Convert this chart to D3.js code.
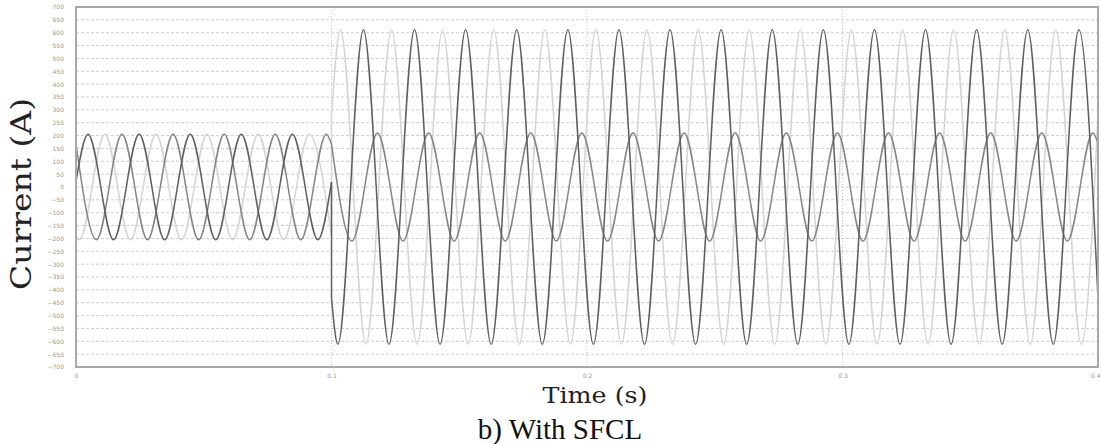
<!DOCTYPE html>
<html lang="en">
<head>
    <meta charset="UTF-8">
    <title>Current - With SFCL</title>
    <script src="https://d3js.org/d3.v7.min.js"></script>
    <style>
        body { margin: 0; background: #fff; }
        svg { display: block; }
    </style>
</head>
<body>
    <script>
        // Ticks
        const yTicks = [700, 650, 600, 550, 500, 450, 400, 350, 300, 250, 200, 150, 100, 50, 0,
                        -50, -100, -150, -200, -250, -300, -350, -400, -450, -500, -550, -600, -650, -700];
        const xTicks = [0, 0.1, 0.2, 0.3, 0.4];
        const faultTime = 0.1;

        // Phase currents: start, peaks/troughs, end (time in s, current in A)
        // Ia (medium grey) - healthy phase
        const iaPreT = [0, 0.008, 0.018, 0.028, 0.038, 0.048, 0.058, 0.068, 0.078, 0.088, 0.098, 0.1];
        const iaPreV = [166, -205, 205, -205, 205, -205, 205, -205, 205, -205, 205, 166];
        const iaPostT = [0.1, 0.108, 0.118, 0.128, 0.138, 0.148, 0.158, 0.168, 0.178, 0.188, 0.198,
                         0.208, 0.218, 0.228, 0.238, 0.248, 0.258, 0.268, 0.278, 0.288, 0.298,
                         0.308, 0.318, 0.328, 0.338, 0.348, 0.358, 0.368, 0.378, 0.388, 0.398, 0.4];
        const iaPostV = [166, -210, 210, -210, 210, -210, 210, -210, 210, -210, 210,
                         -210, 210, -210, 210, -210, 210, -210, 210, -210, 210,
                         -210, 210, -210, 210, -210, 210, -210, 210, -210, 210, 170];
        // Ib (light grey) - faulted phase
        const ibPreT = [0, 0.0013, 0.0113, 0.0213, 0.0313, 0.0413, 0.0513, 0.0613, 0.0713, 0.0813, 0.0913, 0.1];
        const ibPreV = [-192, -205, 205, -205, 205, -205, 205, -205, 205, -205, 205, -188];
        const ibPostT = [0.1, 0.1035, 0.1135, 0.1235, 0.1335, 0.1435, 0.1535, 0.1635, 0.1735, 0.1835, 0.1935,
                         0.2035, 0.2135, 0.2235, 0.2335, 0.2435, 0.2535, 0.2635, 0.2735, 0.2835, 0.2935,
                         0.3035, 0.3135, 0.3235, 0.3335, 0.3435, 0.3535, 0.3635, 0.3735, 0.3835, 0.3935, 0.4];
        const ibPostV = [278, 612, -612, 612, -612, 612, -612, 612, -612, 612, -612,
                         612, -612, 612, -612, 612, -612, 612, -612, 612, -612,
                         612, -612, 612, -612, 612, -612, 612, -612, 612, -612, 278];
        // Ic (dark grey) - faulted phase
        const icPreT = [0, 0.0047, 0.0147, 0.0247, 0.0347, 0.0447, 0.0547, 0.0647, 0.0747, 0.0847, 0.0947, 0.1];
        const icPreV = [22, 205, -205, 205, -205, 205, -205, 205, -205, 205, -205, 19];
        const icPostT = [0.1, 0.1025, 0.1125, 0.1225, 0.1325, 0.1425, 0.1525, 0.1625, 0.1725, 0.1825, 0.1925,
                         0.2025, 0.2125, 0.2225, 0.2325, 0.2425, 0.2525, 0.2625, 0.2725, 0.2825, 0.2925,
                         0.3025, 0.3125, 0.3225, 0.3325, 0.3425, 0.3525, 0.3625, 0.3725, 0.3825, 0.3925, 0.4];
        const icPostV = [-433, -612, 612, -612, 612, -612, 612, -612, 612, -612, 612,
                         -612, 612, -612, 612, -612, 612, -612, 612, -612, 612,
                         -612, 612, -612, 612, -612, 612, -612, 612, -612, 612, -433];

        const w = 1101, h = 444;
        const padLeft = 76, padRight = 1098, padTop = 7, padBottom = 367;

        const svg = d3.select("body").append("svg")
            .attr("width", w)
            .attr("height", h);

        svg.append("rect").attr("width", w).attr("height", h).attr("fill", "#fff");

        const x = d3.scaleLinear().domain([0, 0.4]).range([padLeft, padRight]);
        const y = d3.scaleLinear().domain([-700, 700]).range([padBottom, padTop]);

        // grid lines
        svg.append("g")
            .selectAll("line")
            .data(yTicks.filter(d => Math.abs(d) < 700))
            .join("line")
            .attr("x1", padLeft).attr("x2", padRight)
            .attr("y1", d => y(d)).attr("y2", d => y(d))
            .attr("stroke", "#cdcdcd")
            .attr("stroke-width", 1)
            .attr("stroke-dasharray", "3,2");
        svg.append("g")
            .selectAll("line")
            .data(xTicks.filter(d => d > 0 && d < 0.4))
            .join("line")
            .attr("x1", d => x(d)).attr("x2", d => x(d))
            .attr("y1", padTop).attr("y2", padBottom)
            .attr("stroke", "#c8c8c8")
            .attr("stroke-width", 1)
            .attr("stroke-dasharray", "1,2");

        // axes (labels only, the frame is drawn below)
        const yAxis = d3.axisLeft(y).tickValues(yTicks).tickSize(0).tickPadding(12);
        const xAxis = d3.axisBottom(x).tickValues(xTicks).tickSize(0).tickPadding(7)
            .tickFormat(d => d === 0 ? "0" : d3.format(".1f")(d));

        const gy = svg.append("g").attr("transform", `translate(${padLeft},0)`).call(yAxis);
        const gx = svg.append("g").attr("transform", `translate(0,${padBottom})`).call(xAxis);
        [gx, gy].forEach(g => {
            g.select(".domain").remove();
            g.selectAll("text")
                .attr("fill", "#999")
                .style("font-family", "DejaVu Sans, sans-serif")
                .style("font-size", "6px");
        });
        // last time label sits at the right edge: keep it inside the picture
        gx.selectAll(".tick text").filter(d => d === 0.4)
            .attr("text-anchor", "end")
            .attr("dx", 2);

        // waveforms
        svg.append("clipPath").attr("id", "plot")
            .append("rect")
            .attr("x", padLeft).attr("y", padTop)
            .attr("width", padRight - padLeft).attr("height", padBottom - padTop);

        const line = d3.line()
            .x(d => x(d[0]))
            .y(d => y(d[1]))
            .curve(d3.curveMonotoneX);
        const step = d3.line().x(d => x(d[0])).y(d => y(d[1]));

        const phases = [
            { name: "Ib", color: "#d4d4d4", preT: ibPreT, preV: ibPreV, postT: ibPostT, postV: ibPostV },
            { name: "Ia", color: "#858585", preT: iaPreT, preV: iaPreV, postT: iaPostT, postV: iaPostV },
            { name: "Ic", color: "#5e5e5e", preT: icPreT, preV: icPreV, postT: icPostT, postV: icPostV }
        ];

        const wave = svg.append("g").attr("clip-path", "url(#plot)");
        phases.forEach(p => {
            const pre = p.preT.map((t, i) => [t, p.preV[i]]);
            const post = p.postT.map((t, i) => [t, p.postV[i]]);
            const g = wave.append("g")
                .attr("fill", "none")
                .attr("stroke", p.color)
                .attr("stroke-width", 1.5);
            g.append("path").attr("d", line(pre));
            g.append("path").attr("d", step([[faultTime, pre[pre.length - 1][1]], [faultTime, post[0][1]]]));
            g.append("path").attr("d", line(post));
        });

        // frame
        svg.append("rect")
            .attr("x", padLeft).attr("y", padTop)
            .attr("width", padRight - padLeft).attr("height", padBottom - padTop)
            .attr("fill", "none")
            .attr("stroke", "#a8a8a8")
            .attr("stroke-width", 2);

        // axis titles and caption
        svg.append("text")
            .attr("transform", "translate(31,194) rotate(-90)")
            .attr("text-anchor", "middle")
            .attr("textLength", 192)
            .attr("lengthAdjust", "spacingAndGlyphs")
            .style("font-family", "DejaVu Serif, serif")
            .style("font-size", "27px")
            .attr("fill", "#222")
            .text("Current (A)");
        svg.append("text")
            .attr("x", 595)
            .attr("y", 403)
            .attr("text-anchor", "middle")
            .attr("textLength", 105)
            .attr("lengthAdjust", "spacingAndGlyphs")
            .style("font-family", "DejaVu Serif, serif")
            .style("font-size", "22px")
            .attr("fill", "#222")
            .text("Time (s)");
        svg.append("text")
            .attr("x", 560)
            .attr("y", 439)
            .attr("text-anchor", "middle")
            .style("font-family", "Liberation Serif, serif")
            .style("font-size", "29px")
            .attr("fill", "#111")
            .text("b) With SFCL");
    </script>
</body>
</html>
